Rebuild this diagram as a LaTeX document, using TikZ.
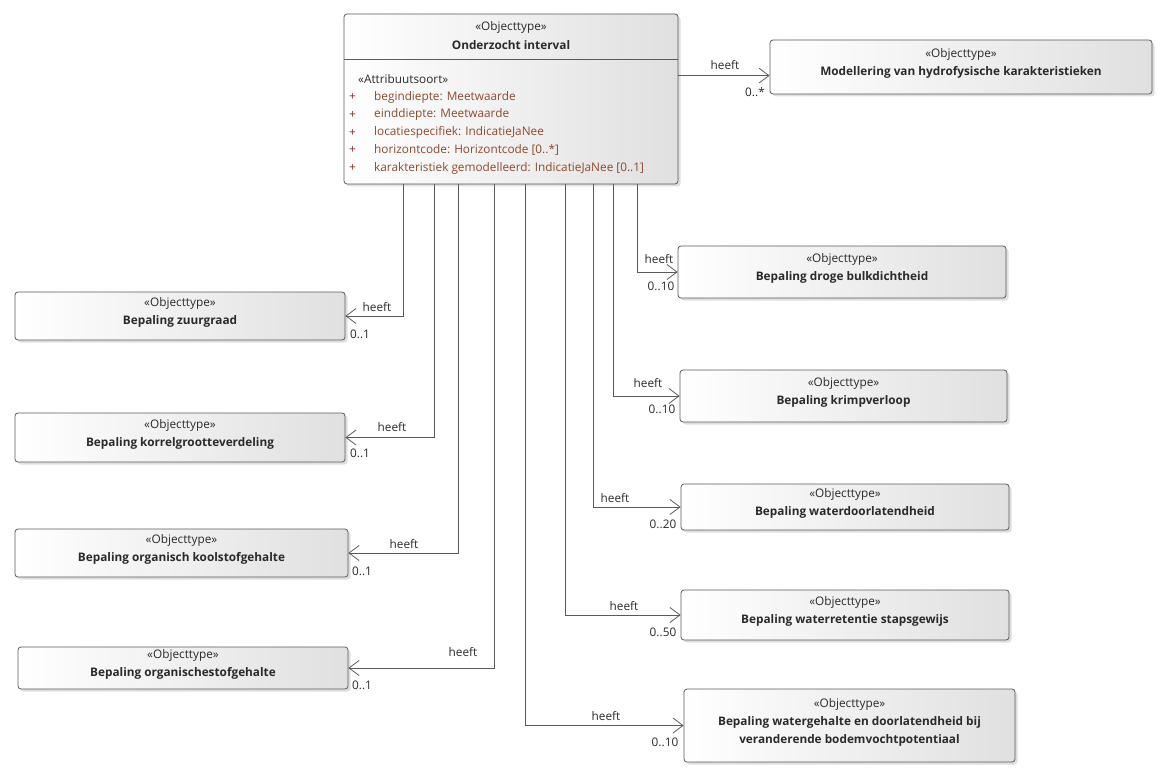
\documentclass[tikz,border=0pt]{standalone}
\usepackage{fontspec}
\setmainfont{Open Sans}
\usetikzlibrary{arrows.meta,positioning,shadows}
\definecolor{lineGray}{HTML}{5A5A5A}
\definecolor{attrBrown}{HTML}{8C4A2F}
\definecolor{plusRed}{HTML}{8B2323}
\definecolor{boxShade}{HTML}{E0E0E0}
\definecolor{labelInk}{HTML}{2A2A2A}
\newcommand{\objlabel}[1]{«Objecttype»\\\bfseries #1\\[-9pt]\mbox{}}

\begin{document}
\begin{tikzpicture}[
    x=1pt, y=-1pt,
    font=\fontsize{11.8}{18}\selectfont,
    objbox/.style={
        draw=lineGray,
        rounded corners=3pt,
        left color=white,
        right color=boxShade,
        line width=0.8pt,
        align=center,
        inner sep=0pt,
        text=labelInk,
        drop shadow={shadow xshift=2.5pt, shadow yshift=-2.5pt, opacity=0.25}
    },
    assoc/.style={
        draw=lineGray,
        line width=0.8pt,
        -{Straight Barb[length=10pt,width=15pt,line width=0.8pt]}
    },
    rolelabel/.style={text=labelInk, inner sep=1pt},
    attrtext/.style={anchor=west, text=attrBrown, inner sep=0pt}
]
\useasboundingbox (0,0) rectangle (1171,781);

% Main class
\node[objbox, minimum width=334pt, minimum height=170pt] (main) at (511,99) {};
\draw[lineGray, line width=0.8pt]
    ([yshift=-46pt]main.north west) -- ([yshift=-46pt]main.north east);
\node[text=labelInk] (mainStereo) at (511,27) {«Objecttype»};
\node[text=labelInk] (mainName) at (511,45) {\textbf{Onderzocht interval}};
\node[anchor=west, text=labelInk, inner sep=0pt] (attrHead) at (358,79) {«Attribuutsoort»};
\foreach \i/\attr in {0/begindiepte: Meetwaarde,
                      1/einddiepte: Meetwaarde,
                      2/locatiespecifiek: IndicatieJaNee,
                      3/horizontcode: Horizontcode [0..*],
                      4/karakteristiek gemodelleerd: IndicatieJaNee [0..1]} {
    \node[attrtext, text=plusRed] (plus\i) at (349,97+17.8*\i) {+};
    \node[attrtext] (attr\i) at (374,97+17.8*\i) {\attr};
}

% Target classes
\node[objbox, minimum width=382pt, minimum height=54pt] (model) at (961,67)
    {\objlabel{Modellering van hydrofysische karakteristieken}};

\node[objbox, minimum width=330pt, minimum height=48pt] (zuur) at (180,316)
    {\objlabel{Bepaling zuurgraad}};
\node[objbox, minimum width=330pt, minimum height=49pt] (korrel) at (180,437.5)
    {\objlabel{Bepaling korrelgrootteverdeling}};
\node[objbox, minimum width=333pt, minimum height=48pt] (koolstof) at (181.5,553)
    {\objlabel{Bepaling organisch koolstofgehalte}};
\node[objbox, minimum width=330pt, minimum height=42pt] (orgstof) at (183,668)
    {\objlabel{Bepaling organischestofgehalte}};

\node[objbox, minimum width=328pt, minimum height=52pt] (bulk) at (842,272)
    {\objlabel{Bepaling droge bulkdichtheid}};
\node[objbox, minimum width=327pt, minimum height=52pt] (krimp) at (843.5,396)
    {\objlabel{Bepaling krimpverloop}};
\node[objbox, minimum width=328pt, minimum height=46pt] (doorlaat) at (845,507)
    {\objlabel{Bepaling waterdoorlatendheid}};
\node[objbox, minimum width=328pt, minimum height=50pt] (retentie) at (845,615)
    {\objlabel{Bepaling waterretentie stapsgewijs}};
\node[objbox, minimum width=331pt, minimum height=73pt] (watergeh) at (849.5,725.5)
    {«Objecttype»\\\bfseries Bepaling watergehalte en doorlatendheid bij\\
     \bfseries veranderende bodemvochtpotentiaal\\[-9pt]\mbox{}};

% Taps on the main class
\coordinate (tapModel) at ([yshift=-62pt]main.north east);
\coordinate (tapZuur) at ([xshift=60pt]main.south west);
\coordinate (tapKorrel) at ([xshift=91pt]main.south west);
\coordinate (tapKoolstof) at ([xshift=115pt]main.south west);
\coordinate (tapOrgstof) at ([xshift=151pt]main.south west);
\coordinate (tapWatergeh) at ([xshift=182pt]main.south west);
\coordinate (tapRetentie) at ([xshift=222pt]main.south west);
\coordinate (tapDoorlaat) at ([xshift=250pt]main.south west);
\coordinate (tapKrimp) at ([xshift=270pt]main.south west);
\coordinate (tapBulk) at ([xshift=294pt]main.south west);

% Associations
\draw[assoc] (tapModel) -- (tapModel -| model.west);
\draw[assoc] (tapZuur) |- (zuur.east);
\draw[assoc] (tapKorrel) |- (korrel.east);
\draw[assoc] (tapKoolstof) |- (koolstof.east);
\draw[assoc] (tapOrgstof) |- (orgstof.east);
\draw[assoc] (tapBulk) |- (bulk.west);
\draw[assoc] (tapKrimp) |- (krimp.west);
\draw[assoc] (tapDoorlaat) |- (doorlaat.west);
\draw[assoc] (tapRetentie) |- (retentie.west);
\draw[assoc] (tapWatergeh) |- (watergeh.west);

% Role names and multiplicities
\node[rolelabel] (heeftModel) at (725,65) {heeft};
\node[rolelabel] (multModel) at (755,92) {0..*};
\node[rolelabel] (heeftZuur) at (377,307) {heeft};
\node[rolelabel] (multZuur) at (360,334) {0..1};
\node[rolelabel] (heeftKorrel) at (392,427) {heeft};
\node[rolelabel] (multKorrel) at (360,453) {0..1};
\node[rolelabel] (heeftKoolstof) at (404,544) {heeft};
\node[rolelabel] (multKoolstof) at (362,571) {0..1};
\node[rolelabel] (heeftOrgstof) at (463,652) {heeft};
\node[rolelabel] (multOrgstof) at (362,685) {0..1};
\node[rolelabel] (heeftBulk) at (659,259) {heeft};
\node[rolelabel] (multBulk) at (661,286) {0..10};
\node[rolelabel] (heeftKrimp) at (648,383) {heeft};
\node[rolelabel] (multKrimp) at (662,409) {0..10};
\node[rolelabel] (heeftDoorlaat) at (615,498) {heeft};
\node[rolelabel] (multDoorlaat) at (663,524) {0..20};
\node[rolelabel] (heeftRetentie) at (624,606) {heeft};
\node[rolelabel] (multRetentie) at (663,632) {0..50};
\node[rolelabel] (heeftWatergeh) at (606,716) {heeft};
\node[rolelabel] (multWatergeh) at (665,742) {0..10};

\end{tikzpicture}
\end{document}
